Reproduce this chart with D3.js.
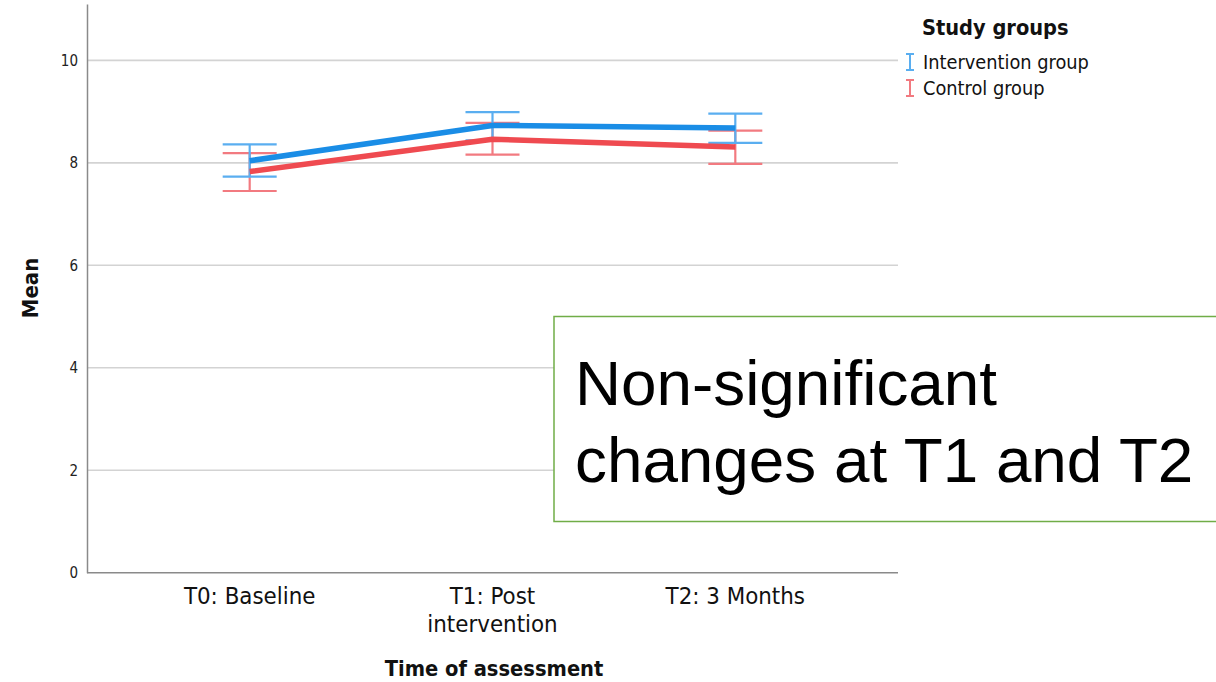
<!DOCTYPE html>
<html>
<head>
<meta charset="utf-8">
<script src="https://cdn.jsdelivr.net/npm/d3@7"></script>
<style>
  html, body { margin: 0; padding: 0; background: #fff; }
  svg { display: block; }
</style>
</head>
<body>
<svg id="chart" width="1216" height="682"></svg>
<script>
// Time points on the x axis (label lines)
const categories = ["T0", "T1", "T2"];
const categoryLabels = [["T0: Baseline"], ["T1: Post", "intervention"], ["T2: 3 Months"]];

// Group names
const groups = ["Intervention group", "Control group"];

// Means and error-bar limits per time point
const interventionMean = [8.04, 8.73, 8.68];
const interventionLow  = [7.73, 8.44, 8.39];
const interventionHigh = [8.36, 8.99, 8.96];

const controlMean = [7.83, 8.46, 8.31];
const controlLow  = [7.45, 8.16, 7.98];
const controlHigh = [8.19, 8.78, 8.63];

const yTicks = [0, 2, 4, 6, 8, 10];

const colors = { line: ["#1a8de6", "#ef4a50"], bar: ["#5aaef0", "#f27a80"] };
const labelFont = "'DejaVu Sans Condensed', 'DejaVu Sans', sans-serif";

const svg = d3.select("#chart");

const x = d3.scalePoint().domain(categories).range([87, 898]).padding(0.67);
const y = d3.scaleLinear().domain([0, 11.1]).range([572.7, 4]);

// Horizontal gridlines
svg.append("g")
  .selectAll("line")
  .data(yTicks.filter(d => d > 0))
  .join("line")
  .attr("x1", 87).attr("x2", 898)
  .attr("y1", d => y(d)).attr("y2", d => y(d))
  .attr("stroke", "#d3d3d3").attr("stroke-width", 1.6);

// Y axis
const yAxis = svg.append("g")
  .attr("transform", "translate(87,0)")
  .call(d3.axisLeft(y).tickValues(yTicks).tickSize(0).tickPadding(9));
yAxis.select(".domain").attr("stroke", "#8a8a8a").attr("stroke-width", 1.5);
yAxis.selectAll("text")
  .attr("font-family", labelFont).attr("font-size", 15).attr("fill", "#222");

// X axis
const xAxis = svg.append("g")
  .attr("transform", "translate(0,572.7)")
  .call(d3.axisBottom(x).tickSize(0).tickFormat(() => ""));
xAxis.select(".domain").attr("stroke", "#8a8a8a").attr("stroke-width", 1.5)
  .attr("d", "M87,0H898");

// Category labels, one text element per line
const labelLines = categories.flatMap((c, i) =>
  categoryLabels[i].map((t, j) => ({ c, t, j })));
svg.append("g").selectAll("text")
  .data(labelLines)
  .join("text")
  .attr("x", d => x(d.c))
  .attr("y", d => 604 + d.j * 27.5)
  .attr("text-anchor", "middle")
  .attr("font-family", labelFont).attr("font-size", 23.8).attr("fill", "#111")
  .text(d => d.t);

// Axis titles
svg.append("text")
  .attr("x", 494).attr("y", 676)
  .attr("text-anchor", "middle")
  .attr("font-family", labelFont).attr("font-weight", "bold")
  .attr("font-size", 21.7).attr("fill", "#111")
  .text("Time of assessment");

svg.append("text")
  .attr("transform", "translate(38,288) rotate(-90)")
  .attr("text-anchor", "middle")
  .attr("font-family", labelFont).attr("font-weight", "bold")
  .attr("font-size", 22).attr("fill", "#111")
  .text("Mean");

// Series data
const series = [
  { name: groups[0], mean: interventionMean, low: interventionLow, high: interventionHigh, i: 0 },
  { name: groups[1], mean: controlMean, low: controlLow, high: controlHigh, i: 1 }
];

const capHalf = 27;

// Error bars
series.slice().reverse().forEach(s => {
  const g = svg.append("g")
    .attr("stroke", colors.bar[s.i]).attr("stroke-width", 2.2).attr("fill", "none");
  categories.forEach((c, k) => {
    g.append("line").attr("x1", x(c)).attr("x2", x(c))
      .attr("y1", y(s.low[k])).attr("y2", y(s.high[k]));
    g.append("line").attr("x1", x(c) - capHalf).attr("x2", x(c) + capHalf)
      .attr("y1", y(s.low[k])).attr("y2", y(s.low[k]));
    g.append("line").attr("x1", x(c) - capHalf).attr("x2", x(c) + capHalf)
      .attr("y1", y(s.high[k])).attr("y2", y(s.high[k]));
  });
});

// Mean lines
const line = d3.line().x(d => x(d.c)).y(d => y(d.v));
series.slice().reverse().forEach(s => {
  svg.append("path")
    .datum(categories.map((c, k) => ({ c, v: s.mean[k] })))
    .attr("d", line)
    .attr("fill", "none")
    .attr("stroke", colors.line[s.i])
    .attr("stroke-width", 5.5)
    .attr("stroke-linejoin", "round");
});

// Legend
const legend = svg.append("g");
legend.append("text")
  .attr("x", 922).attr("y", 35)
  .attr("font-family", labelFont).attr("font-weight", "bold")
  .attr("font-size", 21.6).attr("fill", "#111")
  .text("Study groups");

const item = legend.selectAll("g.item")
  .data(series)
  .join("g")
  .attr("class", "item")
  .attr("transform", (d, i) => `translate(910,${62 + i * 26})`);
item.each(function(d) {
  const g = d3.select(this).append("g")
    .attr("stroke", colors.bar[d.i]).attr("stroke-width", 2);
  g.append("line").attr("x1", 0).attr("x2", 0).attr("y1", -8).attr("y2", 8);
  g.append("line").attr("x1", -4).attr("x2", 4).attr("y1", -8).attr("y2", -8);
  g.append("line").attr("x1", -4).attr("x2", 4).attr("y1", 8).attr("y2", 8);
});
item.append("text")
  .attr("x", 13).attr("y", 7)
  .attr("font-family", labelFont).attr("font-size", 19.8).attr("fill", "#111")
  .text(d => d.name);

// Annotation box
const note = svg.append("g");
note.append("rect")
  .attr("x", 554).attr("y", 316.5)
  .attr("width", 680).attr("height", 205)
  .attr("fill", "#fff")
  .attr("stroke", "#70ad47").attr("stroke-width", 1.5);
const noteText = note.append("text")
  .attr("x", 575).attr("y", 405)
  .attr("font-family", "'Liberation Sans', Arial, sans-serif")
  .attr("font-size", 63.8).attr("fill", "#000");
noteText.append("tspan").attr("x", 575).attr("dy", 0).text("Non-significant");
noteText.append("tspan").attr("x", 575).attr("dy", 77).text("changes at T1 and T2");
</script>
</body>
</html>
